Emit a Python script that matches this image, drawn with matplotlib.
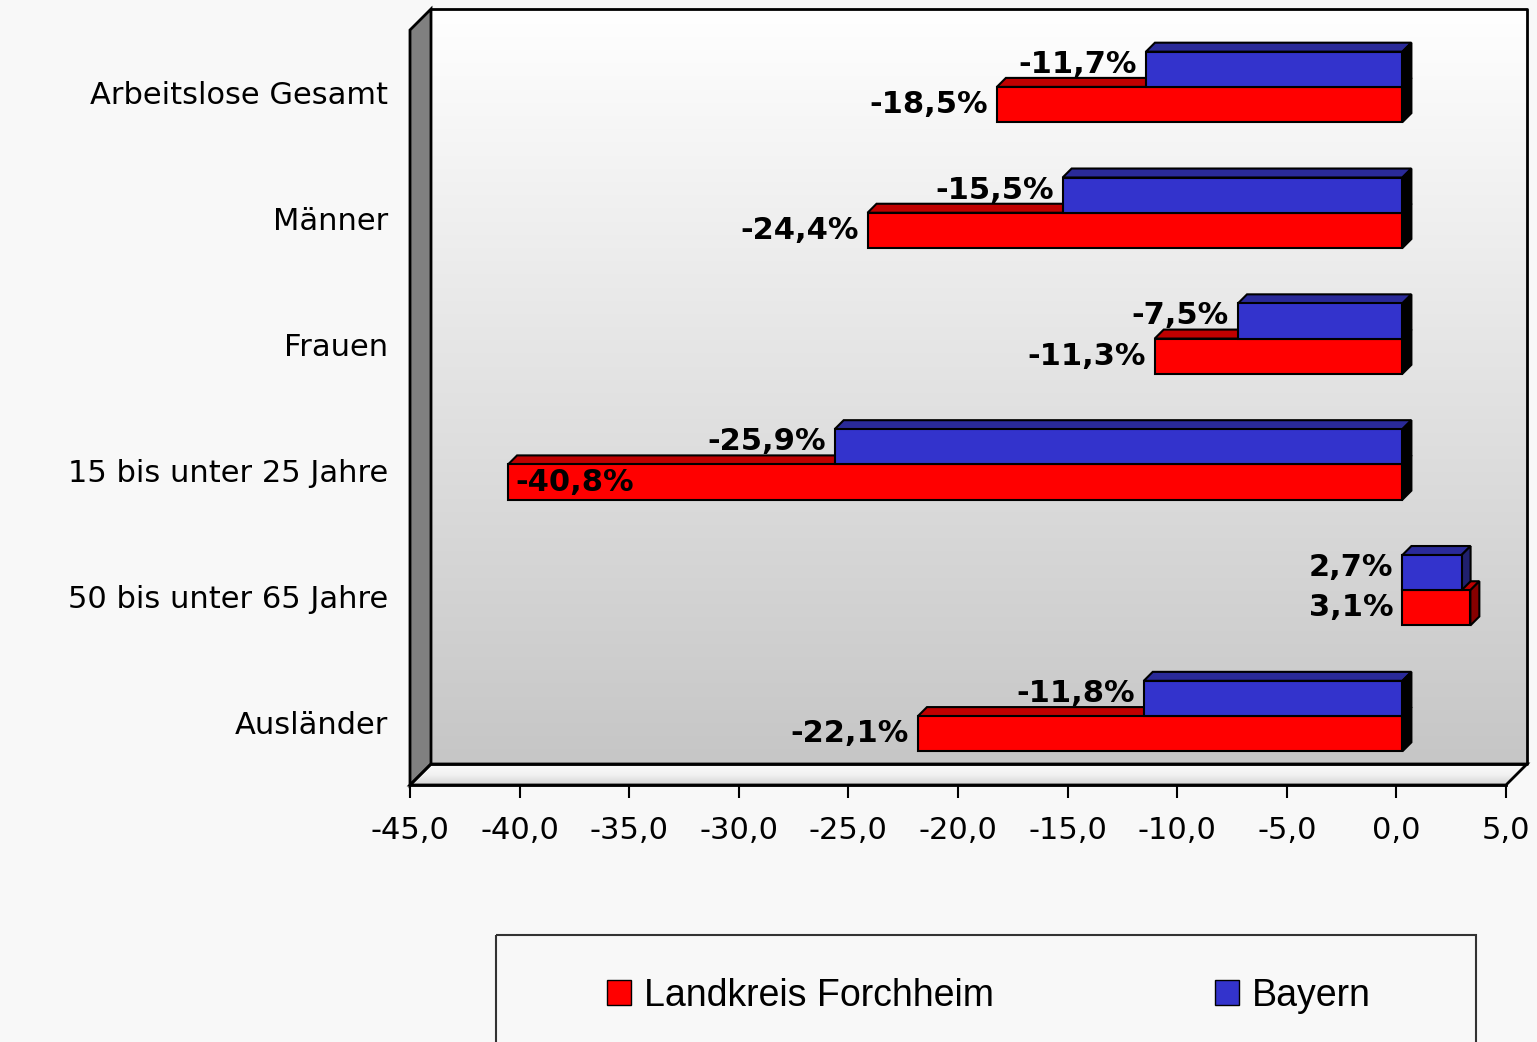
import matplotlib
matplotlib.use("Agg")
import matplotlib.pyplot as plt
import matplotlib.transforms as mtransforms
from matplotlib.colors import LinearSegmentedColormap
from matplotlib.patches import Patch, Polygon, Rectangle
import numpy as np

# --- data -------------------------------------------------------------
categories = ["Arbeitslose Gesamt", "Männer", "Frauen",
              "15 bis unter 25 Jahre", "50 bis unter 65 Jahre", "Ausländer"]
forchheim = [-18.5, -24.4, -11.3, -40.8, 3.1, -22.1]
bayern = [-11.7, -15.5, -7.5, -25.9, 2.7, -11.8]
series_names = ["Landkreis Forchheim", "Bayern"]
x_ticks = [-45, -40, -35, -30, -25, -20, -15, -10, -5, 0, 5]

# --- layout (pixels) --------------------------------------------------
W, H = 1537, 1042
F_L, F_T, F_R, F_B = 410, 30, 1506, 785   # front plane of the box
DEPTH = 21                                 # wall depth
BAR_SHIFT = 6                              # bars sit a bit behind the front
BAR_DEPTH = 9
BAR_H = 0.28

RED, RED_TOP, RED_SIDE = "#FF0000", "#C00000", "#880000"
BLUE, BLUE_TOP, BLUE_SIDE = "#3333CC", "#2A2A99", "#20206E"
BG = "#F8F8F8"


def fmt(v, pct=False):
    s = f"{v:.1f}".replace(".", ",")
    return s + "%" if pct else s


fig = plt.figure(figsize=(W / 100, H / 100), dpi=100, facecolor=BG)

# background decorations in pixel space
bg = fig.add_axes([0, 0, 1, 1], zorder=0)
bg.set_xlim(0, W)
bg.set_ylim(H, 0)
bg.axis("off")

wall_cmap = LinearSegmentedColormap.from_list("wall", ["#FFFFFF", "#C6C6C6"])
grad = np.linspace(0, 1, 256).reshape(-1, 1)
bg.imshow(grad, cmap=wall_cmap, aspect="auto", interpolation="bilinear",
          extent=(F_L + DEPTH, F_R + DEPTH, F_B - DEPTH, F_T - DEPTH), zorder=1)
bg.plot([F_L + DEPTH, F_R + DEPTH, F_R + DEPTH, F_L + DEPTH],
        [F_T - DEPTH, F_T - DEPTH, F_B - DEPTH, F_B - DEPTH],
        color="black", lw=2, zorder=3)

# left wall
bg.add_patch(Polygon([(F_L, F_B), (F_L, F_T), (F_L + DEPTH, F_T - DEPTH),
                      (F_L + DEPTH, F_B - DEPTH)], closed=True,
                     facecolor="#808080", edgecolor="black", lw=2, zorder=4))

# floor with gradient
floor = Polygon([(F_L, F_B), (F_L + DEPTH, F_B - DEPTH), (F_R + DEPTH, F_B - DEPTH),
                 (F_R, F_B)], closed=True, facecolor="none", edgecolor="black",
                lw=2, zorder=4)
bg.add_patch(floor)
floor_cmap = LinearSegmentedColormap.from_list("floor", ["#FAFAFA", "#F2F2F2", "#D4D4D4"])
fimg = bg.imshow(grad, cmap=floor_cmap, aspect="auto", interpolation="bilinear",
                 extent=(F_L, F_R + DEPTH, F_B, F_B - DEPTH), zorder=2)
fimg.set_clip_path(floor)

# legend box (runs off the bottom)
bg.add_patch(Rectangle((496, 935), 980, 130, facecolor="none",
                       edgecolor="#333333", lw=1.5, zorder=4))
bg.set_xlim(0, W)
bg.set_ylim(H, 0)

# --- main axes ---------------------------------------------------------
ax = fig.add_axes([F_L / W, (H - F_B) / H, (F_R - F_L) / W, (F_B - F_T) / H],
                  zorder=2)
ax.patch.set_visible(False)
ax.set_xlim(-45, 5)
ax.set_ylim(len(categories) - 0.5, -0.5)
for side in ("top", "right", "left"):
    ax.spines[side].set_visible(False)
ax.spines["bottom"].set_linewidth(2)

ax.set_xticks(x_ticks)
ax.set_xticklabels([fmt(v) for v in x_ticks])
ax.tick_params(axis="x", length=9, width=1.5, pad=13, labelsize=22)
ax.set_yticks(range(len(categories)))
ax.set_yticklabels(categories)
ax.tick_params(axis="y", length=0, pad=16, labelsize=22)

bar_tf = mtransforms.offset_copy(ax.transData, fig=fig, x=BAR_SHIFT, y=BAR_SHIFT,
                                 units="dots")

# depth of the bars expressed in data units
p0, p1 = ax.transData.transform([(0, 0), (1, 1)])
ddx = BAR_DEPTH / (p1[0] - p0[0])
ddy = BAR_DEPTH / (p0[1] - p1[1])


def draw_bar(y_top, value, face, top, side):
    x0, x1 = min(0, value), max(0, value)
    y_bot = y_top + BAR_H
    side_col = side if value > 0 else "black"
    ax.add_patch(Polygon([(x0, y_top), (x1, y_top), (x1 + ddx, y_top - ddy),
                          (x0 + ddx, y_top - ddy)], closed=True, facecolor=top,
                         edgecolor="black", lw=1.5, transform=bar_tf, clip_on=False))
    ax.add_patch(Polygon([(x1, y_top), (x1 + ddx, y_top - ddy), (x1 + ddx, y_bot - ddy),
                          (x1, y_bot)], closed=True, facecolor=side_col,
                         edgecolor="black", lw=1.5, transform=bar_tf, clip_on=False))
    ax.barh(y_top + BAR_H / 2, value, height=BAR_H, color=face, edgecolor="black",
            lw=1.5, transform=bar_tf, clip_on=False)


def label_bar(y_top, value, up):
    x0 = min(0, value)
    yc = y_top + BAR_H / 2
    if value < -35:
        dx, ha = 7, "left"
    else:
        dx, ha = -9, "right"
    ax.annotate(fmt(value, pct=True), xy=(x0, yc), xycoords=bar_tf,
                xytext=(dx, up), textcoords="offset pixels", ha=ha,
                va="center_baseline", fontsize=22, fontweight="bold",
                annotation_clip=False)


for i in range(len(categories)):
    draw_bar(i, forchheim[i], RED, RED_TOP, RED_SIDE)
    draw_bar(i - BAR_H, bayern[i], BLUE, BLUE_TOP, BLUE_SIDE)
for i in range(len(categories)):
    label_bar(i - BAR_H, bayern[i], 8)
    label_bar(i, forchheim[i], 3)

# --- legend ------------------------------------------------------------
handles = [Patch(facecolor=RED, edgecolor="black"),
           Patch(facecolor=BLUE, edgecolor="black")]
fig.legend(handles, series_names, loc="center left",
           bbox_to_anchor=(607 / W, 1 - 996 / H), ncol=2, frameon=False,
           prop={"family": "Liberation Sans", "size": 27},
           handlelength=0.64, handleheight=0.64, handletextpad=0.34,
           columnspacing=5.9, borderpad=0, borderaxespad=0)

fig.savefig("out.png", dpi=100, facecolor=BG)
